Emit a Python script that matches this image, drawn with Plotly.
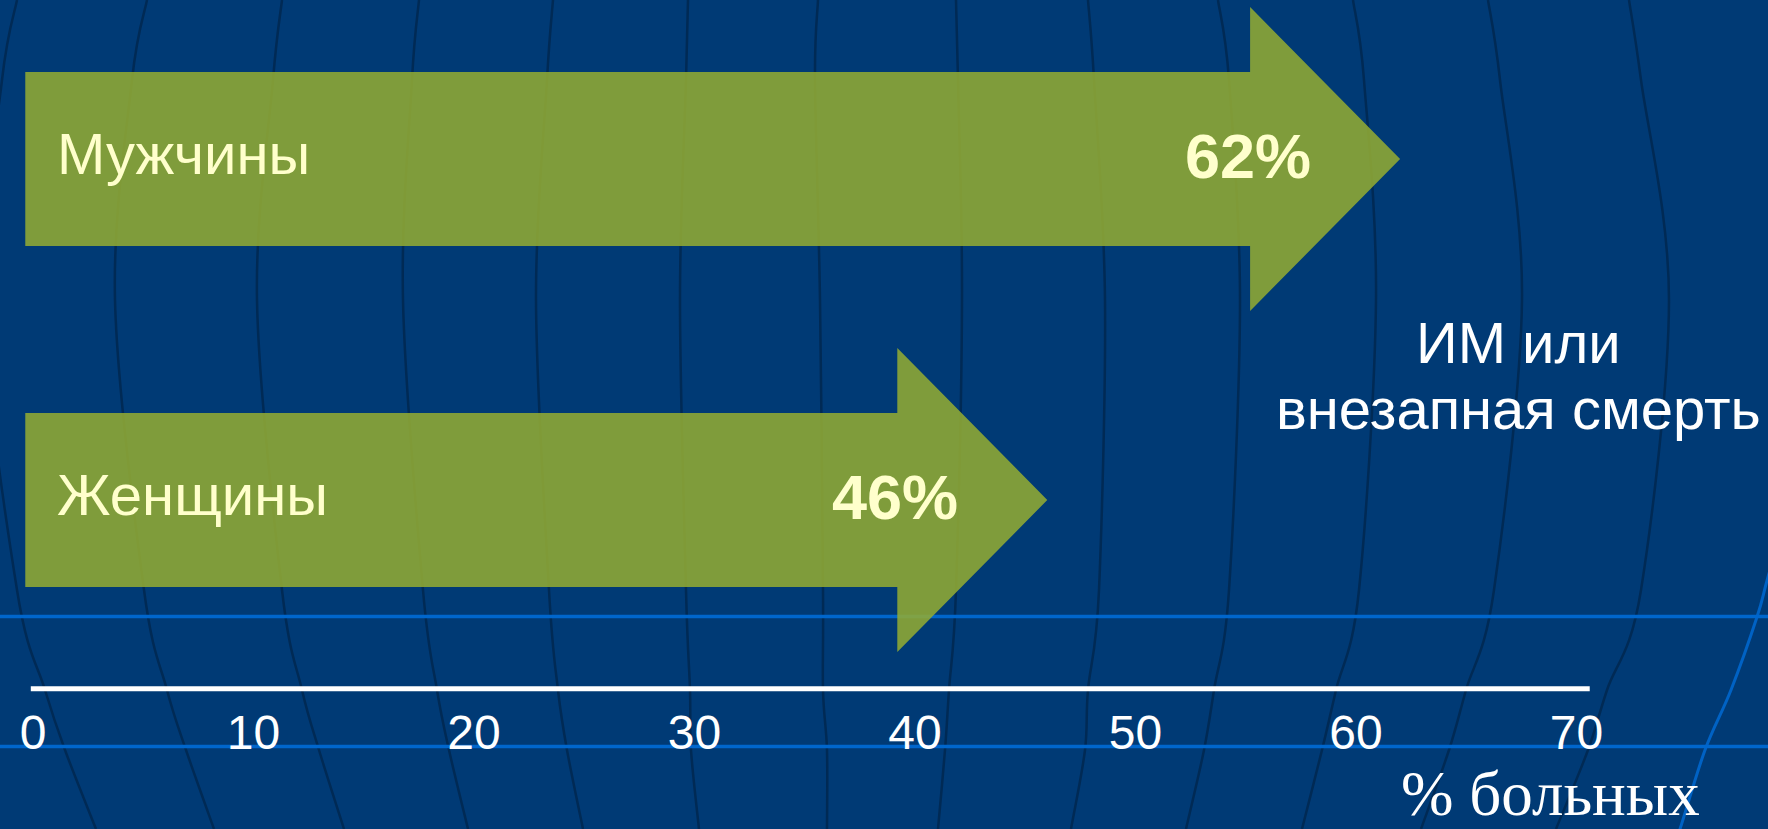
import plotly.graph_objects as go

# ---------------- data ----------------
categories = ["Мужчины", "Женщины"]
values = [62, 46]
value_labels = ["62%", "46%"]
tick_vals = [0, 10, 20, 30, 40, 50, 60, 70]
tick_text = ["0", "10", "20", "30", "40", "50", "60", "70"]
axis_title = "% больных"
side_note = ["ИМ или", "внезапная смерть"]

# ---------------- style / layout constants ----------------
W, H = 1768, 829
PLOT_BOTTOM = 700              # plot area spans y = 0 .. PLOT_BOTTOM px
X0_PX, PX_PER_UNIT = 33, 22.05  # pixel of x=0 and pixels per percent
ROW0_PX, ROW_STEP_PX = 159, 341

BG = "#003A75"
GREEN = "rgb(146,171,50)"
ARROW_OPACITY = 0.87
LABEL_YELLOW = "#FFFFCC"
SANS = "Liberation Sans, Arial, sans-serif"
SERIF = "Liberation Serif, Times New Roman, serif"

x_range = [-X0_PX / PX_PER_UNIT, (W - X0_PX) / PX_PER_UNIT]
y_range = [(PLOT_BOTTOM - ROW0_PX) / ROW_STEP_PX, -ROW0_PX / ROW_STEP_PX]

BODY_HALF = 87 / ROW_STEP_PX
HEAD_HALF = 152 / ROW_STEP_PX
HEAD_LEN = 150 / PX_PER_UNIT
ARROW_START = -0.35
AXIS_Y = (688.7 - ROW0_PX) / ROW_STEP_PX


def px_to_paper(x, y):
    return x / W, (PLOT_BOTTOM - y) / PLOT_BOTTOM


def smooth_path(points):
    """Catmull-Rom spline through pixel points -> SVG path in paper coords."""
    p = [px_to_paper(x, y) for x, y in points]
    ext = [p[0]] + p + [p[-1]]
    d = f"M {p[0][0]:.5f},{p[0][1]:.5f}"
    for i in range(1, len(ext) - 2):
        p0, p1, p2, p3 = ext[i - 1], ext[i], ext[i + 1], ext[i + 2]
        c1 = (p1[0] + (p2[0] - p0[0]) / 6, p1[1] + (p2[1] - p0[1]) / 6)
        c2 = (p2[0] - (p3[0] - p1[0]) / 6, p2[1] - (p3[1] - p1[1]) / 6)
        d += (f" C {c1[0]:.5f},{c1[1]:.5f} {c2[0]:.5f},{c2[1]:.5f}"
              f" {p2[0]:.5f},{p2[1]:.5f}")
    return d


fig = go.Figure()

# ---------------- arrows ----------------
for i, (cat, v) in enumerate(zip(categories, values)):
    base = v - HEAD_LEN
    xs = [ARROW_START, base, base, v, base, base, ARROW_START, ARROW_START]
    ys = [i - BODY_HALF, i - BODY_HALF, i - HEAD_HALF, i,
          i + HEAD_HALF, i + BODY_HALF, i + BODY_HALF, i - BODY_HALF]
    fig.add_trace(go.Scatter(
        x=xs, y=ys, mode="lines", fill="toself", fillcolor=GREEN,
        line=dict(width=0, color=GREEN), opacity=ARROW_OPACITY,
        hoverinfo="skip", showlegend=False, name=cat))

# ---------------- axis baseline ----------------
fig.add_trace(go.Scatter(
    x=[tick_vals[0] - 0.1, tick_vals[-1] + 0.6], y=[AXIS_Y, AXIS_Y],
    mode="lines", line=dict(color="white", width=5),
    hoverinfo="skip", showlegend=False))

# ---------------- decorative background (globe meridians) ----------------
mer_y = [0, 80, 300, 590, 690, 750, 829]
meridians = [
    [17, 2, -17, 17, 45, 65, 96],
    [147, 132, 115, 144, 167, 186, 214],
    [282, 273, 257, 282, 302, 319, 344],
    [419, 412, 403, 423, 437, 449, 468],
    [553, 547, 536, 549, 558, 567, 583],
    [688, 686, 680, 686, 690, 691, 699],
    [818, 815, 820, 823, 823, 827, 827],
    [956, 958, 962, 956, 949, 945, 938],
    [1088, 1094, 1105, 1099, 1088, 1085, 1071],
    [1218, 1229, 1240, 1229, 1214, 1204, 1186],
    [1353, 1364, 1376, 1359, 1336, 1322, 1302],
    [1488, 1500, 1522, 1494, 1466, 1449, 1421],
    [1629, 1641, 1669, 1641, 1607, 1588, 1556],
]
shapes = []
for mx in meridians:
    shapes.append(dict(type="path", path=smooth_path(list(zip(mx, mer_y))),
                       xref="paper", yref="paper",
                       line=dict(color="#002A55", width=2.5), layer="below"))

# light-blue globe outline on the right
outline = [(1790, 500), (1768, 577), (1757, 617), (1731, 690), (1705, 750), (1680, 829), (1672, 850)]
shapes.append(dict(type="path", path=smooth_path(outline),
                   xref="paper", yref="paper",
                   line=dict(color="#0062C4", width=3), layer="below"))

# light-blue horizontal latitude lines
for yy in [616.5, 746.5]:
    _, py = px_to_paper(0, yy)
    shapes.append(dict(type="line", xref="paper", yref="paper",
                       x0=0, x1=1, y0=py, y1=py,
                       line=dict(color="#0066CC", width=3.5), layer="below"))

# ---------------- annotations ----------------
annotations = []
for i, (cat, v, lab) in enumerate(zip(categories, values, value_labels)):
    annotations.append(dict(
        x=ARROW_START, y=i, xref="x", yref="y", text=cat, showarrow=False,
        xanchor="left", yanchor="middle", xshift=30, yshift=6,
        font=dict(family=SANS, size=58, color=LABEL_YELLOW)))
    annotations.append(dict(
        x=v, y=i, xref="x", yref="y", text=f"<b>{lab}</b>", showarrow=False,
        xanchor="right", yanchor="middle", xshift=-87, yshift=3,
        font=dict(family=SANS, size=63, color=LABEL_YELLOW)))

nx, ny1 = px_to_paper(1518, 342)
_, ny2 = px_to_paper(1518, 408)
annotations.append(dict(x=nx, y=ny1, xref="paper", yref="paper", text=side_note[0],
                        showarrow=False, xanchor="center", yanchor="middle",
                        font=dict(family=SANS, size=58, color="white")))
annotations.append(dict(x=nx, y=ny2, xref="paper", yref="paper", text=side_note[1],
                        showarrow=False, xanchor="center", yanchor="middle",
                        font=dict(family=SANS, size=58, color="white")))

tx, ty = px_to_paper(1550, 829)
annotations.append(dict(x=tx, y=ty, xref="paper", yref="paper", text=axis_title,
                        showarrow=False, xanchor="center", yanchor="bottom", yshift=-2,
                        font=dict(family=SERIF, size=63, color="white")))

fig.update_layout(
    width=W, height=H,
    margin=dict(l=0, r=0, t=0, b=H - PLOT_BOTTOM, pad=0),
    paper_bgcolor=BG, plot_bgcolor="rgba(0,0,0,0)",
    showlegend=False,
    xaxis=dict(range=x_range, tickmode="array", tickvals=tick_vals, ticktext=tick_text,
               showgrid=False, zeroline=False, showline=False, ticks="",
               ticklabelstandoff=0,
               tickfont=dict(family=SANS, size=48, color="white"), fixedrange=True),
    yaxis=dict(range=y_range, visible=False, showgrid=False, zeroline=False, fixedrange=True),
    shapes=shapes, annotations=annotations,
)

fig.write_html("out.html", config={"displayModeBar": False})
